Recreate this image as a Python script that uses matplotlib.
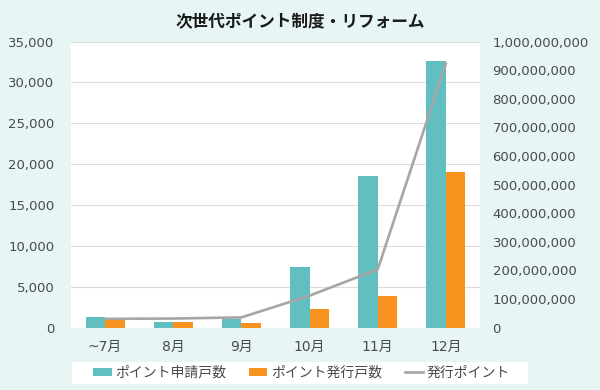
import matplotlib.pyplot as plt
from matplotlib.patches import Patch, Rectangle
from matplotlib.lines import Line2D
from matplotlib.ticker import FuncFormatter, MultipleLocator
import numpy as np

plt.rcParams['font.family'] = ['DejaVu Sans', 'Noto Sans CJK JP']

months = ['~7月', '8月', '9月', '10月', '11月', '12月']
applied = [1300, 650, 1100, 7400, 18600, 32600]
issued = [900, 700, 600, 2250, 3900, 19000]
points = [31e6, 32e6, 36e6, 112e6, 204e6, 923e6]

title = '次世代ポイント制度・リフォーム'
labels = ['ポイント申請戸数', 'ポイント発行戸数', '発行ポイント']

bg = '#E7F5F5'
teal = '#62BFC1'
orange = '#F7931E'
grey = '#A6A6A6'
txt = '#4A4A4A'

fig = plt.figure(figsize=(6, 3.9), dpi=100, facecolor=bg)
ax = fig.add_axes([71 / 600, 1 - 327.7 / 390, 409 / 600, 286.2 / 390])
ax.set_facecolor('white')

x = np.arange(len(months))
w = 1 / 3.5
ax.bar(x - w / 2, applied, w, color=teal, zorder=2)
ax.bar(x + w / 2, issued, w, color=orange, zorder=2)

ax.set_xlim(-0.5, len(months) - 0.5)
ax.set_ylim(0, 35000)
ax.yaxis.set_major_locator(MultipleLocator(5000))
ax.yaxis.set_major_formatter(FuncFormatter(lambda v, p: f'{int(v):,}'))
ax.grid(axis='y', color='#DCDCDC', linewidth=0.8)
ax.set_axisbelow(True)
ax.set_xticks(x)
ax.set_xticklabels(months)
for s in ax.spines.values():
    s.set_visible(False)
ax.tick_params(axis='y', length=0, pad=12, labelsize=9.5, labelcolor=txt)
ax.tick_params(axis='x', length=0, pad=9, labelsize=10, labelcolor=txt)

ax2 = ax.twinx()
ax2.plot(x, points, color=grey, linewidth=1.9, zorder=3)
ax2.set_ylim(0, 1e9)
ax2.yaxis.set_major_locator(MultipleLocator(1e8))
ax2.yaxis.set_major_formatter(FuncFormatter(lambda v, p: f'{int(v):,}'))
for s in ax2.spines.values():
    s.set_visible(False)
ax2.tick_params(axis='y', length=0, pad=9, labelsize=9.5, labelcolor=txt)

fig.text(0.5, 1 - 21.7 / 390, title, ha='center', va='center',
         fontsize=12, fontweight='bold', color='#1A1A1A')

# legend box
fig.patches.append(Rectangle((72 / 600, 1 - 384 / 390), 456 / 600, 22.3 / 390,
                             transform=fig.transFigure, facecolor='white',
                             edgecolor='none', zorder=0))
handles = [Patch(facecolor=teal), Patch(facecolor=orange),
           Line2D([0], [0], color=grey, linewidth=1.9)]
fig.legend(handles, labels, loc='center', bbox_to_anchor=(301.5 / 600, 1 - 372.9 / 390),
           ncol=3, frameon=False, fontsize=10, handlelength=1.33, handleheight=0.58,
           handletextpad=0.25, columnspacing=1.65, labelcolor=txt)

fig.savefig('out.png', dpi=100, facecolor=bg)
